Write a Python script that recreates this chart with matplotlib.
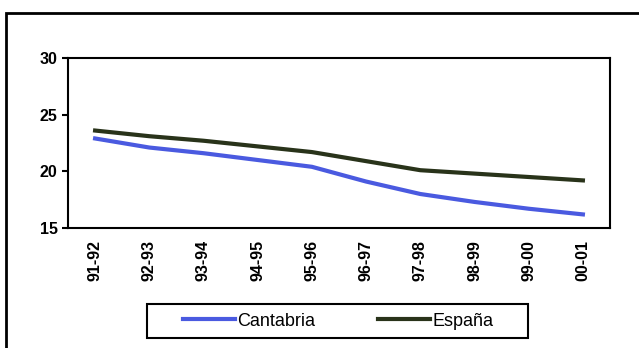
import matplotlib.pyplot as plt
from matplotlib.patches import Rectangle

plt.rcParams['font.family'] = ['Liberation Sans', 'DejaVu Sans']

# data
cursos = ['91-92', '92-93', '93-94', '94-95', '95-96',
          '96-97', '97-98', '98-99', '99-00', '00-01']
cantabria = [22.9, 22.1, 21.6, 21.0, 20.4, 19.1, 18.0, 17.3, 16.7, 16.2]
espana = [23.6, 23.1, 22.7, 22.2, 21.7, 20.9, 20.1, 19.8, 19.5, 19.2]
y_ticks = [15, 20, 25, 30]

fig = plt.figure(figsize=(6.39, 3.48), dpi=100)
# outer frame of the original picture
fig.patches.append(Rectangle((6 / 639, -0.05), 1.0, 1 - 13 / 348 + 0.05,
                             transform=fig.transFigure, fill=False,
                             edgecolor='black', linewidth=2))
# legend box
fig.patches.append(Rectangle((147 / 639, 1 - 338 / 348), 381 / 639, 34 / 348,
                             transform=fig.transFigure, fill=False,
                             edgecolor='black', linewidth=1.5))

ax = fig.add_axes([68 / 639, 1 - 228 / 348, 542 / 639, 170 / 348])
x = range(len(cursos))
ax.plot(x, cantabria, color='#4a5ae0', linewidth=3, label='Cantabria')
ax.plot(x, espana, color='#29331a', linewidth=3, label='España')

ax.set_xlim(-0.5, len(cursos) - 0.5)
ax.set_ylim(15, 30)
ax.set_yticks(y_ticks)
ax.set_xticks(list(x))
ax.set_xticklabels(cursos, rotation=90, fontweight='bold')
ax.set_yticklabels([str(v) for v in y_ticks], fontweight='bold')
ax.tick_params(axis='x', length=0, pad=8.5, labelsize=11.5)
ax.tick_params(axis='y', length=4.5, width=1.5, labelsize=11.5, pad=3)
for s in ax.spines.values():
    s.set_linewidth(1.5)

fig.legend(loc='center', bbox_to_anchor=(338 / 639, 1 - 321 / 348),
           ncol=2, fontsize=13, frameon=False,
           handlelength=2.9, handletextpad=0.1, columnspacing=3.5)

fig.savefig('out.png', dpi=100)
